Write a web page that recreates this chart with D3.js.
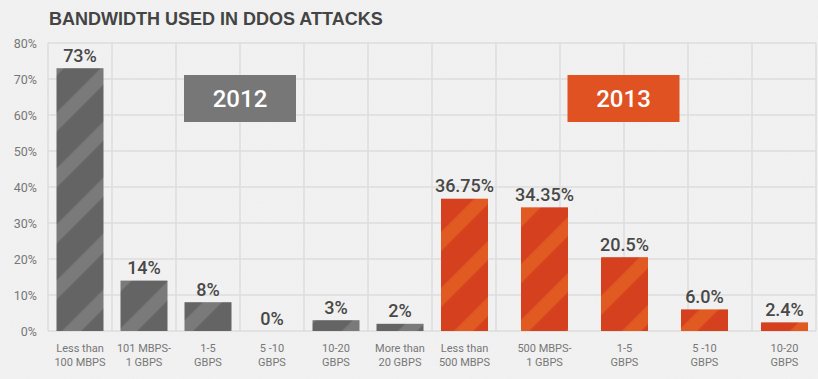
<!DOCTYPE html>
<html>
<head>
<meta charset="utf-8">
<script src="https://cdn.jsdelivr.net/npm/d3@7"></script>
<style>
  html, body { margin: 0; padding: 0; background: #f2f2f2; }
  svg { display: block; }
</style>
</head>
<body>
<div id="chart"></div>
<script>
// ---- data ----
const title = "BANDWIDTH USED IN DDOS ATTACKS";
const cats2012 = [["Less than", "100 MBPS"], ["101 MBPS-", "1 GBPS"], ["1-5", "GBPS"], ["5 -10", "GBPS"], ["10-20", "GBPS"], ["More than", "20 GBPS"]];
const vals2012 = [73, 14, 8, 0, 3, 2];
const labels2012 = ["73%", "14%", "8%", "0%", "3%", "2%"];
const cats2013 = [["Less than", "500 MBPS"], ["500 MBPS-", "1 GBPS"], ["1-5", "GBPS"], ["5 -10", "GBPS"], ["10-20", "GBPS"]];
const vals2013 = [36.75, 34.35, 20.5, 6.0, 2.4];
const labels2013 = ["36.75%", "34.35%", "20.5%", "6.0%", "2.4%"];
const yTicks = [0, 10, 20, 30, 40, 50, 60, 70, 80];
const years = ["2012", "2013"];

// ---- layout ----
const W = 818, H = 379;
const plot = { left: 48, right: 816, top: 43, bottom: 331 };

const svg = d3.select("#chart").append("svg").attr("width", W).attr("height", H);
const defs = svg.append("defs");

// paper-like background
const f = defs.append("filter").attr("id", "noise").attr("x", 0).attr("y", 0).attr("width", "100%").attr("height", "100%");
f.append("feTurbulence").attr("type", "fractalNoise").attr("baseFrequency", 0.9).attr("numOctaves", 2).attr("seed", 3).attr("result", "n");
f.append("feColorMatrix").attr("type", "matrix")
  .attr("values", "0 0 0 0 0.55  0 0 0 0 0.55  0 0 0 0 0.55  0 0 0 0.10 0");
svg.append("rect").attr("width", W).attr("height", H).attr("fill", "#f3f3f3");
svg.append("rect").attr("width", W).attr("height", H).attr("filter", "url(#noise)");

function stripe(id, dark, light) {
  const p = defs.append("pattern").attr("id", id)
    .attr("patternUnits", "userSpaceOnUse")
    .attr("width", 39.6).attr("height", 40)
    .attr("patternTransform", "rotate(45)");
  p.append("rect").attr("width", 39.6).attr("height", 40).attr("fill", dark);
  p.append("rect").attr("x", 0.7).attr("width", 13.5).attr("height", 40).attr("fill", light);
}
stripe("st2012", "#646464", "#7a7a7a");
stripe("st2013", "#d5411f", "#e15a22");

const y = d3.scaleLinear().domain([0, 80]).range([plot.bottom, plot.top]);

const idx2012 = cats2012.map((d, i) => i);
const idx2013 = cats2013.map((d, i) => i);
const x2012 = d3.scaleBand().domain(idx2012).range([48, 432]).paddingInner(17 / 64).paddingOuter(8.5 / 64);
const x2013 = d3.scaleBand().domain(idx2013).range([432, 817]).paddingInner(33 / 80).paddingOuter(0.1125);

// grid
const grid = svg.append("g");
yTicks.forEach(t => {
  grid.append("line").attr("x1", plot.left).attr("x2", plot.right)
    .attr("y1", y(t)).attr("y2", y(t))
    .attr("stroke", "#dcdcdc").attr("stroke-width", 1.5);
});
const step = x2012.step();
d3.range(0, Math.round((plot.right - plot.left) / step) + 1).forEach(i => {
  const gx = x2012.range()[0] + i * step;
  grid.append("line").attr("x1", gx).attr("x2", gx)
    .attr("y1", plot.top).attr("y2", plot.bottom)
    .attr("stroke", "#dcdcdc").attr("stroke-width", 1.5);
});

// y axis labels
const yAxis = svg.append("g").attr("transform", `translate(${plot.left},0)`)
  .call(d3.axisLeft(y).tickValues(yTicks).tickFormat(d => d + "%").tickSize(0).tickPadding(11));
yAxis.select(".domain").remove();
yAxis.selectAll("text").attr("fill", "#777").style("font-family", "Roboto, sans-serif").style("font-size", "12.5px");

// title
svg.append("text").attr("x", 49).attr("y", 25)
  .attr("fill", "#444").style("font-family", "'Liberation Sans', Arial, sans-serif")
  .style("font-weight", "700").style("font-size", "18px")
  .text(title);

function drawGroup(cats, vals, labels, xs, pat) {
  const g = svg.append("g");
  g.selectAll("rect.bar").data(vals).join("rect").attr("class", "bar")
    .attr("x", (d, i) => xs(i)).attr("width", xs.bandwidth())
    .attr("y", d => y(d)).attr("height", d => y(0) - y(d))
    .attr("fill", `url(#${pat})`);
  g.selectAll("text.val").data(labels).join("text").attr("class", "val")
    .attr("x", (d, i) => xs(i) + xs.bandwidth() / 2)
    .attr("y", (d, i) => y(vals[i]) - 6.5)
    .attr("text-anchor", "middle").attr("fill", "#484848")
    .style("font-family", "Roboto, sans-serif").style("font-weight", "500").style("font-size", "18px")
    .text(d => d);
  const xl = g.selectAll("text.cat").data(cats).join("text").attr("class", "cat")
    .attr("text-anchor", "middle").attr("fill", "#777")
    .style("font-family", "Roboto, sans-serif").style("font-size", "11px");
  xl.each(function (d, i) {
    const t = d3.select(this);
    d.forEach((line, k) => {
      t.append("tspan").attr("x", xs(i) + xs.bandwidth() / 2).attr("y", 352 + k * 14).text(line);
    });
  });
}
drawGroup(cats2012, vals2012, labels2012, x2012, "st2012");
drawGroup(cats2013, vals2013, labels2013, x2013, "st2013");

// year boxes
const boxes = [
  { cx: 240, fill: "#777777" },
  { cx: 623.5, fill: "#e05222" }
];
years.forEach((yr, i) => {
  const b = boxes[i];
  svg.append("rect").attr("x", b.cx - 56).attr("y", 75).attr("width", 112).attr("height", 47).attr("fill", b.fill);
  svg.append("text").attr("x", b.cx).attr("y", 107).attr("text-anchor", "middle")
    .attr("fill", "#fff").style("font-family", "Roboto, sans-serif").style("font-weight", "500").style("font-size", "24px")
    .text(yr);
});
</script>
</body>
</html>
